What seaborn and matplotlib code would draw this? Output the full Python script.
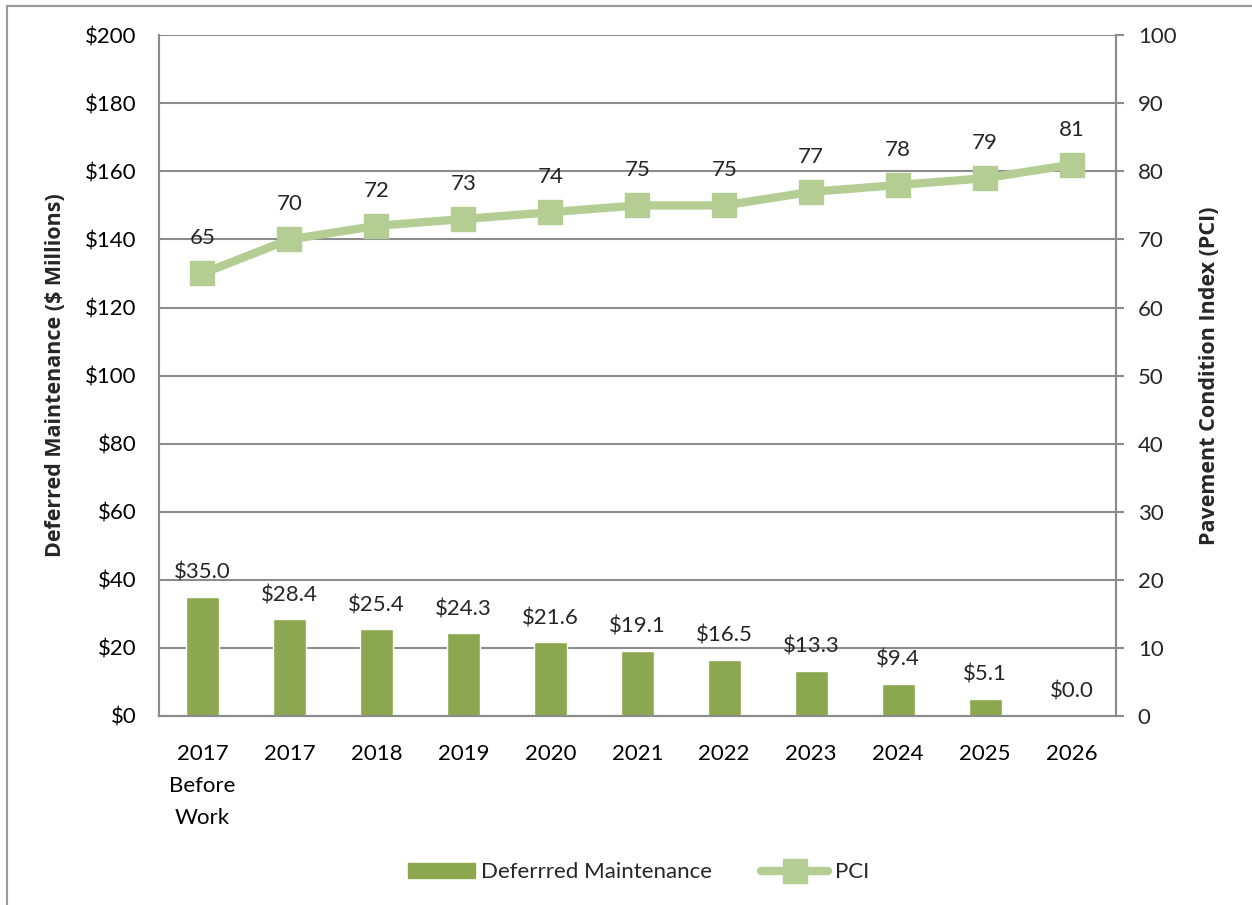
import numpy as np
import pandas as pd
import matplotlib
matplotlib.use("Agg")
import matplotlib.pyplot as plt
import seaborn as sns
from matplotlib.patches import Patch
from matplotlib.lines import Line2D

# Data
years = ["2017\nBefore\nWork", "2017", "2018", "2019", "2020", "2021",
         "2022", "2023", "2024", "2025", "2026"]
deferred = [35.0, 28.4, 25.4, 24.3, 21.6, 19.1, 16.5, 13.3, 9.4, 5.1, 0.0]
pci = [65, 70, 72, 73, 74, 75, 75, 77, 78, 79, 81]

bar_color = "#8BA74F"
line_color = "#B4CD93"
grid_color = "#8C8C8C"
fs = 16

sns.set_theme(style="white")
plt.rcParams["font.family"] = ["Lato", "DejaVu Sans"]

df = pd.DataFrame({"Year": years, "Deferred": deferred, "PCI": pci})

fig = plt.figure(figsize=(12.52, 9.05), dpi=100)
ax = fig.add_axes([0.127, 0.209, 0.764, 0.752])

sns.barplot(data=df, x="Year", y="Deferred", order=years, color=bar_color,
            width=0.38, saturation=1, ax=ax, zorder=3)

ax.set_ylim(0, 200)
ax.set_yticks(np.arange(0, 201, 20))
ax.set_yticklabels([f"${v}" for v in range(0, 201, 20)])
ax.set_xlim(-0.5, len(years) - 0.5)
ax.grid(True, axis="y", color=grid_color, linewidth=1.5, zorder=0)
ax.set_axisbelow(True)
for s in ["left", "bottom", "right", "top"]:
    ax.spines[s].set_color(grid_color)
    ax.spines[s].set_linewidth(1.5)
ax.spines["top"].set_visible(False)
ax.tick_params(axis="y", length=0, labelsize=fs, pad=16, colors="black")
ax.tick_params(axis="x", length=0, labelsize=fs, pad=20, colors="black")
for lbl in ax.get_xticklabels():
    lbl.set_linespacing(1.75)
ax.set_xlabel("")
ax.set_ylabel("Deferred Maintenance ($ Millions)", fontsize=15.5,
              fontweight="bold", family=["Open Sans", "DejaVu Sans"], labelpad=14)

# bar value labels
for i, v in enumerate(deferred):
    ax.annotate(f"${v:.1f}", (i, v), xytext=(0, 10), textcoords="offset points",
                ha="center", va="bottom", fontsize=fs)

# PCI line on the secondary axis
ax2 = ax.twinx()
x = np.arange(len(years))
ax2.plot(x, pci, color=line_color, linewidth=6, marker="s", markersize=17,
         markerfacecolor=line_color, markeredgecolor=line_color,
         solid_capstyle="round", zorder=4)
ax2.set_ylim(0, 100)
ax2.set_yticks(np.arange(0, 101, 10))
ax2.tick_params(axis="y", length=6, width=1.5, color=grid_color,
                labelsize=fs, pad=10, direction="out")
for s in ["left", "bottom", "right", "top"]:
    ax2.spines[s].set_color(grid_color)
    ax2.spines[s].set_linewidth(1.5)
ax2.spines["top"].set_visible(False)
ax2.set_ylabel("Pavement Condition Index (PCI)", fontsize=15.5,
               fontweight="bold", family=["Open Sans", "DejaVu Sans"], labelpad=16)
ax2.grid(False)

for i, v in enumerate(pci):
    ax2.annotate(f"{v}", (i, v), xytext=(0, 18), textcoords="offset points",
                 ha="center", va="bottom", fontsize=fs)

# legend
handles = [
    Patch(facecolor=bar_color, edgecolor=bar_color, label="Deferrred Maintenance"),
    Line2D([0], [0], color=line_color, linewidth=6, marker="s", markersize=17,
           label="PCI", solid_capstyle="round"),
]
fig.legend(handles=handles, loc="center", bbox_to_anchor=(0.51, 0.036), ncol=2,
           frameon=False, fontsize=fs, handlelength=3.0, handletextpad=0.3,
           columnspacing=2.2)

# chart border
fig.patches.append(plt.Rectangle((0.0055, -0.05), 1.1, 1.043,
                                 transform=fig.transFigure, fill=False,
                                 edgecolor="#9A9A9A", linewidth=1.5))

fig.savefig("out.png", dpi=100)
